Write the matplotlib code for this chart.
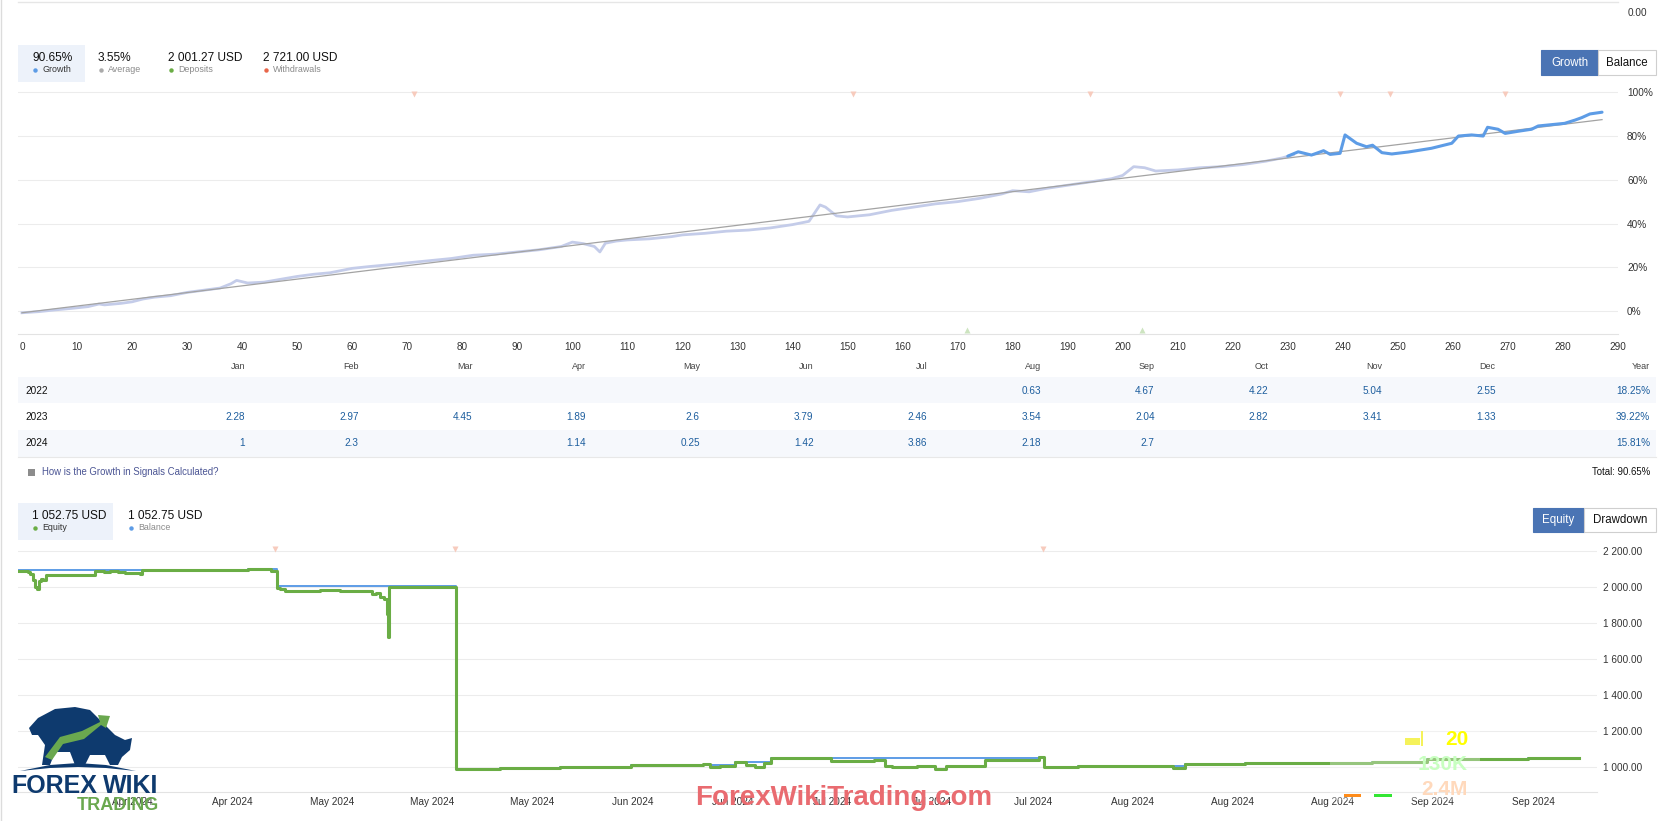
import matplotlib
matplotlib.use("Agg")
import matplotlib.pyplot as plt
import matplotlib.dates as mdates
from matplotlib.patches import Rectangle, Polygon
import pandas as pd

W, H = 1669, 821

# ---- growth chart: growth % by trade number ----
growth_x = [0, 3, 6, 9, 12, 14, 15, 18, 20, 22, 24, 27, 30, 33, 36, 38, 39, 41, 44, 47,
            50, 53, 56, 60, 63, 66, 70, 74, 78, 82, 86, 90, 94, 98, 100, 102, 104, 105,
            106, 108, 110, 114, 118, 120, 124, 128, 132, 136, 140, 143, 145, 146, 148,
            150, 154, 158, 162, 166, 170, 174, 178, 180, 183, 186, 190, 194, 198, 200,
            202, 204, 206, 210, 214, 218, 222, 226, 229, 231]
growth_y = [-0.8, -0.3, 0.5, 1.2, 2.0, 3.2, 2.8, 3.5, 4.2, 5.5, 6.3, 7.0, 8.5, 9.5, 10.5,
            12.5, 14.0, 12.8, 13.2, 14.5, 15.8, 16.8, 17.5, 19.5, 20.3, 21.0, 22.0, 23.0,
            24.0, 25.5, 26.0, 27.0, 28.0, 29.5, 31.5, 30.8, 29.5, 27.0, 31.0, 32.0, 32.5,
            33.0, 34.0, 34.8, 35.5, 36.5, 37.0, 38.0, 39.5, 41.0, 48.5, 47.5, 43.5, 43.0,
            44.0, 46.0, 47.5, 49.0, 50.0, 51.5, 53.5, 55.0, 54.5, 56.0, 57.5, 59.0, 60.5,
            62.0, 66.0, 65.5, 64.0, 64.5, 65.5, 66.0, 67.0, 68.5, 70.0, 71.5]
recent_x = [230, 231.9, 234.3, 236.5, 237.7, 239.5, 240.4, 242.5, 244.3, 245.4, 247.1,
            248.9, 251.9, 256.1, 259.8, 261, 263.4, 265.5, 266.3, 268.2, 269.5, 271.9,
            274.3, 275.5, 280.3, 282.2, 283.4, 284.9, 287.1]
recent_y = [70.8, 72.8, 71.3, 73.3, 71.6, 72.1, 80.5, 76.7, 75.1, 75.8, 72.4, 71.8, 72.7,
            74.4, 76.7, 80.0, 80.5, 80.0, 84.0, 83.1, 81.2, 82.2, 83.1, 84.6, 85.8, 87.3,
            88.4, 90.1, 90.9]
trend_x = [0, 287.1]
trend_y = [-0.8, 87.5]
withdraw_trades = [71.3, 151, 194, 239.5, 248.5, 269.5]
deposit_trades = [171.7, 203.5]
growth_xticks = list(range(0, 291, 10))
growth_yticks = [0, 20, 40, 60, 80, 100]

# ---- monthly returns table ----
months = ["Jan", "Feb", "Mar", "Apr", "May", "Jun", "Jul", "Aug", "Sep", "Oct", "Nov", "Dec"]
years = ["2022", "2023", "2024"]
ret_2022 = ["", "", "", "", "", "", "", "0.63", "4.67", "4.22", "5.04", "2.55"]
ret_2023 = ["2.28", "2.97", "4.45", "1.89", "2.6", "3.79", "2.46", "3.54", "2.04", "2.82", "3.41", "1.33"]
ret_2024 = ["1", "2.3", "", "1.14", "0.25", "1.42", "3.86", "2.18", "2.7", "", "", ""]
year_totals = ["18.25%", "39.22%", "15.81%"]

# ---- equity / balance chart ----
equity_dates = ["2024-04-02 14:00", "2024-04-03 14:00", "2024-04-03 19:00", "2024-04-04 03:00",
                "2024-04-04 08:00", "2024-04-04 13:00", "2024-04-04 18:40", "2024-04-05 00:00",
                "2024-04-05 05:00", "2024-04-05 13:00", "2024-04-07 02:00", "2024-04-10 22:20",
                "2024-04-11 22:00", "2024-04-12 14:00", "2024-04-13 11:00", "2024-04-14 05:30",
                "2024-04-14 19:00", "2024-04-15 10:30", "2024-04-15 21:00", "2024-04-16 02:20",
                "2024-04-27 18:00", "2024-04-30 06:40", "2024-04-30 22:30", "2024-05-01 06:30",
                "2024-05-01 19:40", "2024-05-03 11:20", "2024-05-05 16:00", "2024-05-07 20:40",
                "2024-05-08 10:00", "2024-05-10 01:30", "2024-05-11 04:00", "2024-05-11 09:00",
                "2024-05-11 19:40", "2024-05-12 06:15", "2024-05-12 16:50", "2024-05-13 00:45",
                "2024-05-13 04:10", "2024-05-13 05:00", "2024-05-20 16:00", "2024-05-25 11:00",
                "2024-06-01 01:10", "2024-06-08 20:25", "2024-06-16 18:30", "2024-06-17 13:00",
                "2024-06-18 15:20", "2024-06-20 07:00", "2024-06-21 12:00", "2024-06-22 11:40",
                "2024-06-23 11:20", "2024-06-24 05:45", "2024-06-30 20:10", "2024-07-05 13:40",
                "2024-07-06 18:30", "2024-07-07 13:00", "2024-07-10 07:00", "2024-07-12 06:30",
                "2024-07-13 11:30", "2024-07-17 18:30", "2024-07-23 16:50", "2024-07-24 06:00",
                "2024-07-27 23:45", "2024-08-07 10:20", "2024-08-08 18:00", "2024-08-15 08:20",
                "2024-08-29 07:30", "2024-09-04 08:25", "2024-09-15 11:00", "2024-09-21 01:40"]
equity_vals = [2085, 2082, 2070, 2040, 2000, 1990, 2030, 2045, 2040, 2065, 2068, 2090,
               2082, 2085, 2080, 2075, 2078, 2074, 2070, 2093, 2098, 2090, 1995, 1990,
               1975, 1978, 1980, 1979, 1975, 1977, 1978, 1962, 1968, 1945, 1930, 1850,
               1722, 2000, 992, 998, 1005, 1013, 1018, 1000, 1008, 1028, 1013, 1002,
               1024, 1050, 1037, 1043, 1009, 1002, 1006, 990, 1006, 1043, 1056, 1000,
               1006, 998, 1018, 1024, 1028, 1046, 1050, 1052.75]
balance_dates = ["2024-04-02 14:00", "2024-04-16 02:20", "2024-04-27 18:00", "2024-04-30 22:30",
                 "2024-05-20 16:00", "2024-05-25 11:00", "2024-06-01 01:10", "2024-06-08 20:25",
                 "2024-06-16 18:30", "2024-06-20 07:00", "2024-06-24 05:45", "2024-07-23 16:50",
                 "2024-07-24 06:00", "2024-07-27 23:45", "2024-08-08 18:00", "2024-08-15 08:20",
                 "2024-08-29 07:30", "2024-09-04 08:25", "2024-09-15 11:00", "2024-09-21 01:40"]
balance_vals = [2092, 2093, 2098, 2003, 992, 998, 1005, 1013, 1015, 1028, 1050, 1056,
                1000, 1006, 1018, 1024, 1028, 1046, 1050, 1052.75]
withdraw_dates = ["2024-04-30 17:15", "2024-05-20 11:00", "2024-07-24 03:20"]
equity_xticks = ["2024-04-15", "2024-04-26", "2024-05-07", "2024-05-18", "2024-05-29",
                 "2024-06-09", "2024-06-20", "2024-07-01", "2024-07-12", "2024-07-23",
                 "2024-08-03", "2024-08-14", "2024-08-25", "2024-09-05", "2024-09-16"]
equity_yticks = [1000, 1200, 1400, 1600, 1800, 2000, 2200]

AX_FONT = "Liberation Sans"
TXT_FONT = "Liberation Sans"
BLUE = "#5d9ce6"
GREEN = "#6aad45"


def fx(x):
    return x / W


def fy(y):
    return 1 - y / H


def rect(fig, x0, y0, x1, y1, **kw):
    fig.patches.append(Rectangle((fx(x0), fy(y1)), (x1 - x0) / W, (y1 - y0) / H,
                                 transform=fig.transFigure, **kw))


def poly(fig, pts, **kw):
    fig.patches.append(Polygon([(fx(a), fy(b)) for a, b in pts], closed=True,
                               transform=fig.transFigure, edgecolor="none", **kw))


def txt(fig, x, y, s, **kw):
    kw.setdefault("va", "center")
    kw.setdefault("family", TXT_FONT)
    fig.text(fx(x), fy(y), s, **kw)


fig = plt.figure(figsize=(W / 100, H / 100), dpi=100)
fig.patch.set_facecolor("white")

# frame leftovers from the page
fig.add_artist(plt.Line2D([fx(1), fx(1)], [0, 1], color="#dcdcdc", lw=1))
fig.add_artist(plt.Line2D([fx(18), fx(1618)], [fy(2), fy(2)], color="#e6e6e6", lw=1))
txt(fig, 1628, 13, "0.00", fontsize=7.2, color="#333")


def header(fig, items, box):
    rect(fig, *box, facecolor="#edf2fa", edgecolor="none")
    for x, value, label, dot, dark in items:
        txt(fig, x, box[1] + 13, value, fontsize=8.6, color="#111")
        fig.add_artist(plt.Line2D([fx(x + 2.5)], [fy(box[1] + 25)], marker="o", ms=3.2,
                                  color=dot, mec="none"))
        txt(fig, x + 10, box[1] + 25, label, fontsize=6.4, color="#333" if dark else "#8a8a8a")


def buttons(fig, x0, xm, x1, y0, y1, first, second):
    rect(fig, x0, y0, xm, y1, facecolor="#4a74b4", edgecolor="#4a74b4", lw=0.8)
    rect(fig, xm, y0, x1, y1, facecolor="white", edgecolor="#cfcfcf", lw=0.8)
    txt(fig, (x0 + xm) / 2, (y0 + y1) / 2, first, fontsize=8.3, color="white", ha="center")
    txt(fig, (xm + x1) / 2, (y0 + y1) / 2, second, fontsize=8.3, color="#111", ha="center")


header(fig, [(32, "90.65%", "Growth", BLUE, True),
             (98, "3.55%", "Average", "#aaaaaa", False),
             (168, "2 001.27 USD", "Deposits", GREEN, False),
             (263, "2 721.00 USD", "Withdrawals", "#e8664a", False)],
       (18, 45, 85, 82))
buttons(fig, 1541, 1598, 1656, 50, 75, "Growth", "Balance")

# ---- growth chart ----
ax1 = fig.add_axes([fx(18), fy(334.3), (1618 - 18) / W, (334.3 - 80) / H])
ax1.set_xlim(-0.726, 289.64)
ax1.set_ylim(-10.65, 105.62)
for s in ["top", "left", "right"]:
    ax1.spines[s].set_visible(False)
ax1.spines["bottom"].set_color("#e3e3e3")
ax1.grid(axis="y", color="#ececec", lw=0.75)
ax1.set_axisbelow(True)
ax1.yaxis.tick_right()
ax1.set_yticks(growth_yticks)
ax1.set_yticklabels([f"{v}%" for v in growth_yticks])
ax1.set_xticks(growth_xticks)
ax1.set_xticklabels([str(v) for v in growth_xticks])
ax1.tick_params(axis="y", length=0, pad=6.5, labelsize=7.2, labelcolor="#333")
ax1.tick_params(axis="x", length=0, pad=5.5, labelsize=7.2, labelcolor="#333")
for lab in ax1.get_xticklabels() + ax1.get_yticklabels():
    lab.set_family(AX_FONT)

ax1.plot(growth_x, growth_y, color="#c4cce9", lw=2.0, zorder=3)
ax1.plot(trend_x, trend_y, color="#a3a3a3", lw=0.9, zorder=4)
ax1.plot(recent_x, recent_y, color=BLUE, lw=2.2, zorder=5, solid_capstyle="round")
ax1.plot(withdraw_trades, [99] * len(withdraw_trades), "v", color="#f7cbbd", ms=5,
         mec="none", clip_on=False, zorder=6)
ax1.plot(deposit_trades, [-8.6] * len(deposit_trades), "^", color="#cde4c0", ms=5,
         mec="none", clip_on=False, zorder=6)

# ---- monthly table ----
col_right = [245 + 113.7 * i for i in range(12)]
rect(fig, 18, 377, 1656, 403.3, facecolor="#f6f8fc", edgecolor="none")
rect(fig, 18, 430, 1656, 456.7, facecolor="#f6f8fc", edgecolor="none")
fig.add_artist(plt.Line2D([fx(18), fx(1656)], [fy(456.7), fy(456.7)], color="#e8e8e8", lw=0.8))
for m, xr in zip(months, col_right):
    txt(fig, xr, 366, m, fontsize=6.5, color="#444", ha="right")
txt(fig, 1650, 366, "Year", fontsize=6.5, color="#444", ha="right")
for yr, row, total, yrow in zip(years, [ret_2022, ret_2023, ret_2024], year_totals,
                                [390.7, 416.7, 443.3]):
    txt(fig, 25, yrow, yr, fontsize=7.2, color="#111")
    for val, xr in zip(row, col_right):
        if val:
            txt(fig, xr, yrow, val, fontsize=7.2, color="#1d5e9e", ha="right")
    txt(fig, 1650, yrow, total, fontsize=7.2, color="#1d5e9e", ha="right")

rect(fig, 28, 469, 35, 476, facecolor="#8c8c8c", edgecolor="none")
txt(fig, 42, 472, "How is the Growth in Signals Calculated?", fontsize=6.9, color="#4b5594")
txt(fig, 1650, 472, "Total: 90.65%", fontsize=6.9, color="#111", ha="right")

# ---- equity chart ----
header(fig, [(32, "1 052.75 USD", "Equity", GREEN, True),
             (128, "1 052.75 USD", "Balance", BLUE, False)],
       (18, 503, 113, 540))
buttons(fig, 1533, 1584, 1656, 508, 532, "Equity", "Drawdown")

ax2 = fig.add_axes([fx(18), fy(791.7), (1597 - 18) / W, (791.7 - 538) / H])
ax2.set_xlim(pd.Timestamp("2024-04-02 11:15"), pd.Timestamp("2024-09-23 01:00"))
ax2.set_ylim(866, 2270)
for s in ["top", "left", "right"]:
    ax2.spines[s].set_visible(False)
ax2.spines["bottom"].set_color("#e3e3e3")
ax2.grid(axis="y", color="#ececec", lw=0.75)
ax2.set_axisbelow(True)
ax2.yaxis.tick_right()
ax2.set_yticks(equity_yticks)
ax2.set_yticklabels([f"{v:,.2f}".replace(",", " ") for v in equity_yticks])
ax2.set_xticks(pd.to_datetime(equity_xticks))
ax2.xaxis.set_major_formatter(mdates.DateFormatter("%b %Y"))
ax2.tick_params(axis="y", length=0, pad=4.5, labelsize=7.2, labelcolor="#333")
ax2.tick_params(axis="x", length=0, pad=4, labelsize=7.2, labelcolor="#333")
for lab in ax2.get_xticklabels() + ax2.get_yticklabels():
    lab.set_family(AX_FONT)

ax2.step(pd.to_datetime(balance_dates), balance_vals, where="post", color=BLUE, lw=1.4, zorder=3)
ax2.step(pd.to_datetime(equity_dates), equity_vals, where="post", color=GREEN, lw=2.2, zorder=4)
ax2.plot(pd.to_datetime(withdraw_dates), [2209] * len(withdraw_dates), "v", color="#f7cbbd",
         ms=5, mec="none", clip_on=False, zorder=6)

# ---- overlays seen on the screenshot ----
rect(fig, 1330, 650, 1480, 800, facecolor="white", edgecolor="none", alpha=0.3, zorder=5)
txt(fig, 1468, 739, "20", fontsize=15, color="#ffff00", weight="bold", ha="right", zorder=6)
txt(fig, 1468, 764, "130K", fontsize=15, color="#c8ffc0", weight="bold", ha="right", zorder=6)
txt(fig, 1468, 789, "2.4M", fontsize=15, color="#ffd9bc", weight="bold", ha="right", zorder=6)
rect(fig, 1405, 738, 1420, 745, facecolor="#f5f25a", edgecolor="none", zorder=6)
rect(fig, 1421, 731, 1423, 746, facecolor="#f5f25a", edgecolor="none", zorder=6)
rect(fig, 1344, 794, 1361, 796.5, facecolor="#ff8c1a", edgecolor="none", zorder=6)
rect(fig, 1374, 794, 1392, 796.5, facecolor="#33e633", edgecolor="none", zorder=6)

narrow = ["Liberation Sans Narrow", "Liberation Sans"]
txt(fig, 844, 798, "ForexWikiTrading.com", fontsize=20, color="#e96b70", weight="bold",
    ha="center", family=narrow, zorder=6)

# logo
poly(fig, [(29, 728), (38, 718), (55, 709), (75, 707), (90, 710), (100, 720), (115, 735),
           (125, 740), (132, 738), (130, 750), (122, 757), (118, 765), (110, 765), (105, 755),
           (90, 755), (85, 765), (75, 765), (70, 752), (55, 752), (50, 765), (42, 765),
           (45, 745), (38, 735), (32, 735)], facecolor="#0e3a6e", zorder=6)
poly(fig, [(20, 771), (50, 765), (78, 763), (106, 765), (136, 771), (106, 768), (78, 767),
           (50, 768)], facecolor="#0e3a6e", zorder=6)
poly(fig, [(45, 757), (60, 737), (82, 731), (100, 722), (98, 715), (110, 716), (106, 728),
           (101, 725), (84, 739), (63, 744), (52, 760)], facecolor="#6aa84f", zorder=7)
txt(fig, 11, 786, "FOREX", fontsize=18, color="#0e3a6e", weight="bold", family=narrow, zorder=7)
txt(fig, 103, 786, "WIKI", fontsize=18, color="#0e3a6e", weight="bold", family=narrow, zorder=7)
txt(fig, 77, 805, "TRADING", fontsize=13, color="#6aa84f", weight="bold", family=narrow, zorder=7)

fig.savefig("out.png", dpi=100)
